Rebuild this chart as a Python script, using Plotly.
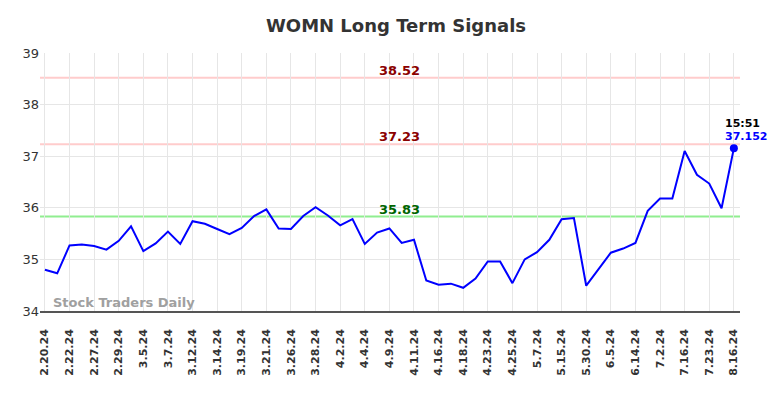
import plotly.graph_objects as go

dates = ["2.20.24","2.21.24","2.22.24","2.26.24","2.27.24","2.28.24","2.29.24","3.1.24",
         "3.5.24","3.6.24","3.7.24","3.11.24","3.12.24","3.13.24","3.14.24","3.18.24",
         "3.19.24","3.20.24","3.21.24","3.25.24","3.26.24","3.27.24","3.28.24","4.1.24",
         "4.2.24","4.3.24","4.4.24","4.8.24","4.9.24","4.10.24","4.11.24","4.15.24",
         "4.16.24","4.17.24","4.18.24","4.22.24","4.23.24","4.24.24","4.25.24","5.1.24",
         "5.7.24","5.14.24","5.15.24","5.29.24","5.30.24","6.4.24","6.5.24","6.13.24",
         "6.14.24","7.1.24","7.2.24","7.15.24","7.16.24","7.22.24","7.23.24","8.15.24",
         "8.16.24"]
prices = [34.80,34.73,35.27,35.29,35.26,35.19,35.36,35.64,35.16,35.31,35.54,35.30,
          35.74,35.69,35.59,35.49,35.61,35.84,35.97,35.60,35.59,35.84,36.01,35.85,
          35.66,35.78,35.30,35.52,35.60,35.32,35.38,34.59,34.51,34.53,34.45,34.63,
          34.96,34.96,34.54,35.00,35.14,35.38,35.78,35.80,34.49,34.81,35.13,35.21,
          35.32,35.94,36.18,36.18,37.10,36.64,36.47,35.99,37.152]
tick_labels = dates[::2]
resistance_levels = [38.52, 37.23]
support_levels = [35.83]
last_time = "15:51"

FONT = "DejaVu Sans"
fig = go.Figure()
fig.add_trace(go.Scatter(x=dates, y=prices, mode="lines",
                         line=dict(color="#0000ff", width=2), hoverinfo="skip"))
fig.add_trace(go.Scatter(x=[dates[-1]], y=[prices[-1]], mode="markers",
                         marker=dict(color="#0000ff", size=8), hoverinfo="skip"))

label_x = 28.8
for lv in resistance_levels:
    fig.add_hline(y=lv, line=dict(color="#ffcccc", width=2), layer="below")
    fig.add_annotation(x=label_x, y=lv, text=f"<b>{lv:.2f}</b>", showarrow=False,
                       yanchor="bottom", yshift=-2, font=dict(family=FONT, size=13, color="#8b0000"))
for lv in support_levels:
    fig.add_hline(y=lv, line=dict(color="#90ee90", width=2), layer="below")
    fig.add_annotation(x=label_x, y=lv, text=f"<b>{lv:.2f}</b>", showarrow=False,
                       yanchor="bottom", yshift=-2, font=dict(family=FONT, size=13, color="#006400"))

fig.add_annotation(x=len(dates) - 1, y=prices[-1], text=f"<b>{last_time}</b>", showarrow=False,
                   yanchor="bottom", yshift=16, xshift=9,
                   font=dict(family=FONT, size=11, color="#000000"))
fig.add_annotation(x=len(dates) - 1, y=prices[-1], text=f"<b>{prices[-1]}</b>", showarrow=False,
                   yanchor="bottom", yshift=3, xshift=12,
                   font=dict(family=FONT, size=11, color="#0000ff"))

fig.add_annotation(xref="paper", yref="paper", x=0.016, y=0.0, xanchor="left", yanchor="bottom",
                   yshift=-1, text="<b>Stock Traders Daily</b>", showarrow=False,
                   font=dict(family=FONT, size=13, color="#a0a0a0"))

fig.update_layout(
    width=776, height=390,
    margin=dict(l=32, r=44, t=45, b=87),
    paper_bgcolor="white", plot_bgcolor="white",
    showlegend=False,
    title=dict(text="<b>WOMN Long Term Signals</b>", x=0.5, xanchor="center", y=0.954,
               yanchor="middle", font=dict(family=FONT, size=18, color="#333333")),
    font=dict(family=FONT),
)
fig.update_xaxes(type="category", categoryorder="array", categoryarray=dates,
                 range=[-0.4, len(dates) - 0.5],
                 tickmode="array", tickvals=tick_labels,
                 ticktext=[f"<b>{t}</b>" for t in tick_labels], tickangle=-90,
                 tickfont=dict(family=FONT, size=11, color="#333333"), ticklabelstandoff=12,
                 showgrid=True, gridcolor="#e6e6e6", gridwidth=1, automargin=False,
                 showline=True, linecolor="#555555", linewidth=1.5, ticks="", zeroline=False)
fig.update_yaxes(range=[34, 39], tickvals=[34, 35, 36, 37, 38, 39],
                 tickfont=dict(family=FONT, size=13, color="#333333"),
                 showgrid=True, gridcolor="#e6e6e6", gridwidth=1, automargin=False,
                 zeroline=False, showline=False, ticks="")

fig.write_html("out.html")
